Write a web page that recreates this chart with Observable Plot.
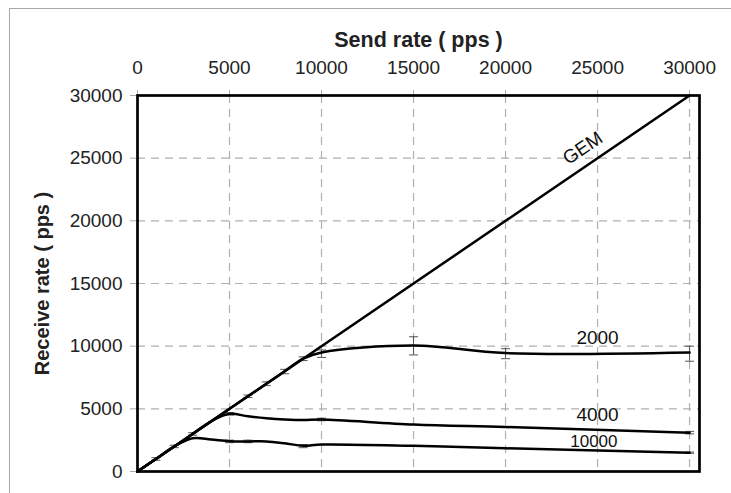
<!DOCTYPE html>
<html><head><meta charset="utf-8">
<script src="https://cdn.jsdelivr.net/npm/d3@7"></script>
<script src="https://cdn.jsdelivr.net/npm/@observablehq/plot@0.6"></script>
<style>
body{margin:0;background:#fff;}
#wrap{position:relative;width:731px;height:493px;overflow:hidden;background:#fff;}
#border{position:absolute;left:9px;top:8px;width:800px;height:600px;border-top:1.5px solid #a8a8a8;border-left:1.5px solid #a8a8a8;}
#chart{position:absolute;left:0;top:0;}
g[aria-label="x-axis label"] text{font-weight:bold;font-size:21.5px;}
g[aria-label="y-axis label"] text{font-weight:bold;font-size:20px;}
</style>
</head><body>
<div id="wrap"><div id="border"></div><div id="chart"></div></div>
<script>
// ---- data ----
const xTicks = [0, 5000, 10000, 15000, 20000, 25000, 30000];
const yTicks = [0, 5000, 10000, 15000, 20000, 25000, 30000];
const gridXTicks = [5000, 10000, 15000, 20000, 25000, 30000];
const gridYTicks = [5000, 10000, 15000, 20000, 25000];

const gemSend = [0, 30000];
const gemRecv = [0, 30000];

const sendRates = [0, 1000, 2000, 3000, 4000, 5000, 6000, 7000, 8000, 9000, 10000, 15000, 20000, 30000];
const recv2000  = [0, 1000, 2000, 3000, 4000, 5000, 6000, 7000, 8000, 9000, 9500, 10050, 9450, 9500];
const recv4000  = [0, 1000, 2000, 3000, 4000, 4600, 4400, 4250, 4150, 4100, 4150, 3750, 3550, 3100];
const recv10000 = [0, 1000, 2000, 2650, 2550, 2420, 2400, 2400, 2250, 2050, 2150, 2050, 1850, 1500];

const err2000Send = [6000, 7000, 8000, 9000, 10000, 15000, 20000, 30000];
const err2000Lo   = [5900, 6850, 7800, 8850, 9100, 9300, 9000, 8800];
const err2000Hi   = [6100, 7150, 8150, 9150, 9700, 10750, 9800, 10000];
const err4000Send = [3000, 5000, 10000, 30000];
const err4000Lo   = [2900, 4500, 4050, 3000];
const err4000Hi   = [3100, 4700, 4250, 3200];
const err10000Send = [1000, 2000, 5000, 6000, 9000, 30000];
const err10000Lo   = [900, 1900, 2300, 2300, 1900, 1450];
const err10000Hi   = [1100, 2100, 2500, 2500, 2150, 1550];

const labelText = ["GEM", "2000", "4000", "10000"];
const labelX    = [24200, 25000, 25000, 24800];
const labelY    = [25800, 10650, 4550, 2400];

// ---- tables ----
const series = [
  ...gemSend.map((s, i) => ({name: "GEM", send: s, recv: gemRecv[i]})),
  ...sendRates.map((s, i) => ({name: "2000", send: s, recv: recv2000[i]})),
  ...sendRates.map((s, i) => ({name: "4000", send: s, recv: recv4000[i]})),
  ...sendRates.map((s, i) => ({name: "10000", send: s, recv: recv10000[i]}))
];
const errs = [
  ...err2000Send.map((s, i) => ({send: s, lo: err2000Lo[i], hi: err2000Hi[i]})),
  ...err4000Send.map((s, i) => ({send: s, lo: err4000Lo[i], hi: err4000Hi[i]})),
  ...err10000Send.map((s, i) => ({send: s, lo: err10000Lo[i], hi: err10000Hi[i]}))
];
const caps = errs.flatMap(d => [{send: d.send, v: d.lo}, {send: d.send, v: d.hi}]);
const labels = labelText.map((t, i) => ({t, x: labelX[i], y: labelY[i]}));

const capSymbol = {draw(ctx, size) { ctx.moveTo(-4.5, 0); ctx.lineTo(4.5, 0); }};
const fmt = d => String(d);

const chart = Plot.plot({
  width: 731, height: 493,
  marginLeft: 137, marginRight: 32, marginTop: 95, marginBottom: 22,
  style: {fontFamily: "'Liberation Sans', Arial, sans-serif", fontSize: "19px", background: "transparent", color: "#222"},
  x: {domain: [0, 30540], axis: null},
  y: {domain: [0, 30000], axis: null},
  marks: [
    Plot.gridX(gridXTicks, {stroke: "#b0b0b0", strokeOpacity: 1, strokeWidth: 1.2, strokeDasharray: "8,6"}),
    Plot.gridY(gridYTicks, {stroke: "#b0b0b0", strokeOpacity: 1, strokeWidth: 1.2, strokeDasharray: "8,6"}),
    Plot.axisX({anchor: "top", ticks: xTicks, tickFormat: fmt, tickSize: 6, tickPadding: 16, stroke: "#aaa", fill: "#222",
      label: "Send rate ( pps )", labelAnchor: "center", labelArrow: "none", labelOffset: 64}),
    Plot.axisY({anchor: "left", ticks: yTicks, tickFormat: fmt, tickSize: 7, tickPadding: 8, stroke: "#aaa", fill: "#222",
      label: "Receive rate ( pps )", labelAnchor: "center", labelArrow: "none", labelOffset: 103}),
    Plot.ruleX(errs, {x: "send", y1: "lo", y2: "hi", stroke: "#555", strokeWidth: 1}),
    Plot.dot(caps, {x: "send", y: "v", symbol: capSymbol, stroke: "#555", strokeWidth: 1, fill: "none"}),
    Plot.line(series, {x: "send", y: "recv", z: "name", curve: "catmull-rom", stroke: "#000", strokeWidth: 2.5}),
    Plot.frame({stroke: "#000", strokeWidth: 2.7}),
    Plot.text(labels.filter(d => d.t === "GEM"), {x: "x", y: "y", text: "t", rotate: -34, fontSize: 19, fill: "#111"}),
    Plot.text(labels.filter(d => d.t !== "GEM"), {x: "x", y: "y", text: "t", fontSize: d => d.t === "10000" ? 17 : 19, fill: "#111"})
  ]
});
document.getElementById("chart").appendChild(chart);
</script>
</body></html>
